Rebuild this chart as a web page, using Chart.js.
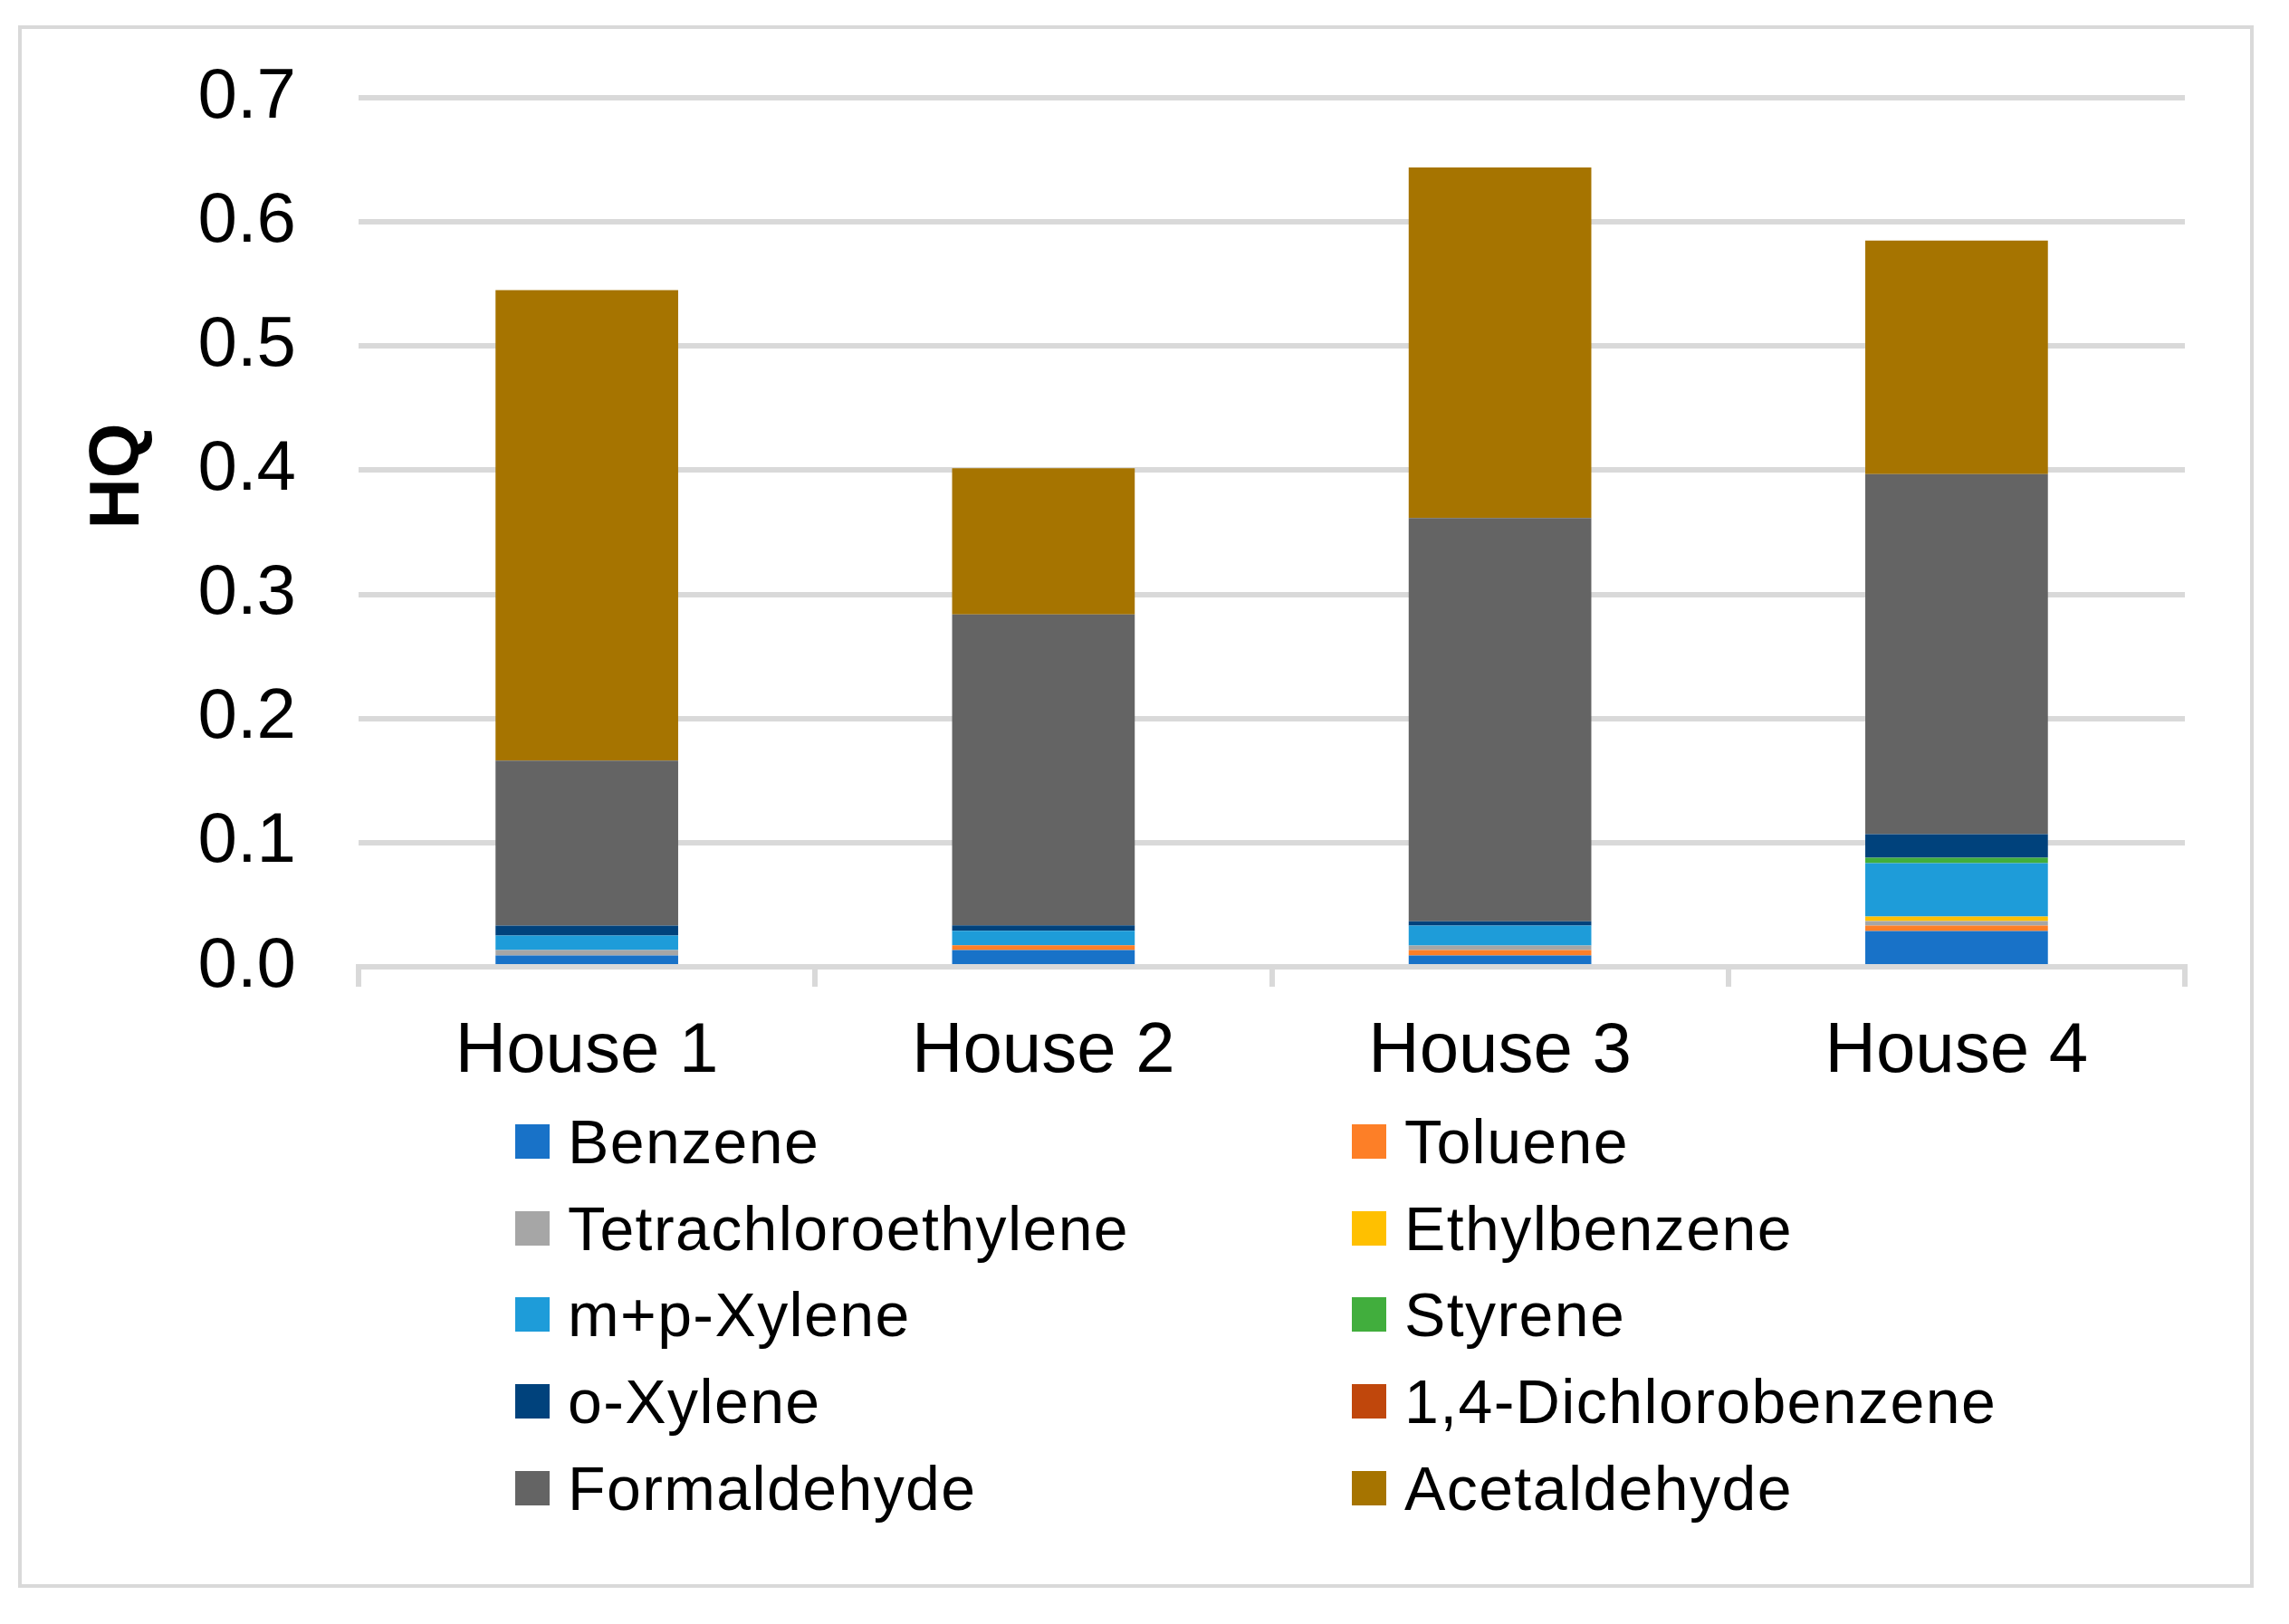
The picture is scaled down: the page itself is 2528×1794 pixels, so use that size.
<!DOCTYPE html>
<html>
<head>
<meta charset="utf-8">
<script src="https://cdn.jsdelivr.net/npm/chart.js@4.4.1/dist/chart.umd.min.js"></script>
<style>
  html, body { margin: 0; padding: 0; background: #ffffff; }
  #wrap { position: relative; width: 2528px; height: 1794px; overflow: hidden; background: #fff; }
  #frame { position: absolute; left: 20px; top: 28px; width: 2469px; height: 1726px; box-sizing: border-box; border: 4px solid #d9d9d9; pointer-events: none; }
  canvas { position: absolute; left: 0; top: 0; }
  .lg { position: absolute; display: flex; align-items: center; height: 38px; font-family: "Liberation Sans", Arial, sans-serif; font-size: 68px; letter-spacing: 1.4px; color: #000; white-space: nowrap; }
  .lg .sw { width: 38px; height: 38px; margin-right: 20px; flex: 0 0 38px; }
</style>
</head>
<body>
<div id="wrap">
  <canvas id="c" width="2528" height="1794"></canvas>
  <div id="frame"></div>
  <div id="legend"></div>
</div>
<script>
const categories = ['House 1', 'House 2', 'House 3', 'House 4'];
const yTicks = [0.0, 0.1, 0.2, 0.3, 0.4, 0.5, 0.6, 0.7];

const benzene             = [0.0091, 0.0135, 0.0091, 0.0288];
const toluene             = [0.0000, 0.0039, 0.0044, 0.0044];
const tetrachloroethylene = [0.0044, 0.0000, 0.0036, 0.0036];
const ethylbenzene        = [0.0000, 0.0000, 0.0000, 0.0036];
const mpXylene            = [0.0117, 0.0115, 0.0160, 0.0430];
const styrene             = [0.0000, 0.0000, 0.0000, 0.0044];
const oXylene             = [0.0080, 0.0044, 0.0036, 0.0190];
const dichlorobenzene     = [0.0000, 0.0000, 0.0000, 0.0000];
const formaldehyde        = [0.1328, 0.2505, 0.3248, 0.2900];
const acetaldehyde        = [0.3790, 0.1177, 0.2824, 0.1882];

const seriesNames = ['Benzene', 'Toluene', 'Tetrachloroethylene', 'Ethylbenzene', 'm+p-Xylene',
  'Styrene', 'o-Xylene', '1,4-Dichlorobenzene', 'Formaldehyde', 'Acetaldehyde'];
const seriesValues = [benzene, toluene, tetrachloroethylene, ethylbenzene, mpXylene,
  styrene, oXylene, dichlorobenzene, formaldehyde, acetaldehyde];
const seriesColors = ['#1872C8', '#FD7F27', '#A6A6A6', '#FFC000', '#1E9CD9',
  '#41AE3D', '#00427C', '#C0470C', '#646464', '#A67400'];

const FONT = '"Liberation Sans", Arial, sans-serif';

const yTitlePlugin = {
  id: 'yTitle',
  afterDraw(chart) {
    const ctx = chart.ctx;
    ctx.save();
    ctx.translate(131, 526);
    ctx.rotate(-Math.PI / 2);
    ctx.font = 'bold 78px ' + FONT;
    ctx.fillStyle = '#000';
    ctx.textAlign = 'center';
    ctx.textBaseline = 'middle';
    ctx.fillText('HQ', 0, 0);
    ctx.restore();
  }
};

const chart = new Chart(document.getElementById('c'), {
  type: 'bar',
  data: {
    labels: categories,
    datasets: seriesNames.map((n, i) => ({
      label: n,
      data: seriesValues[i],
      backgroundColor: seriesColors[i],
      borderWidth: 0,
      barPercentage: 0.4,
      categoryPercentage: 1.0
    }))
  },
  options: {
    responsive: false,
    devicePixelRatio: 1,
    animation: false,
    layout: { padding: { left: 0, right: 115, top: 108, bottom: 566 } },
    plugins: {
      legend: { display: false },
      tooltip: { enabled: false },
      title: { display: false }
    },
    scales: {
      x: {
        stacked: true,
        afterFit(s) { s.height = 160; s.paddingLeft = 0; s.paddingRight = 0; s.paddingTop = 0; s.paddingBottom = 0; },
        grid: { display: true, drawOnChartArea: false, drawTicks: true, tickLength: 22, color: '#d9d9d9', lineWidth: 6, offset: true },
        border: { display: true, color: '#d9d9d9', width: 6 },
        ticks: { color: '#000', font: { family: FONT, size: 78 }, padding: 26, maxRotation: 0 }
      },
      y: {
        stacked: true,
        min: 0,
        max: 0.7,
        afterFit(s) { s.width = 396; s.paddingTop = 0; s.paddingBottom = 0; s.paddingLeft = 0; s.paddingRight = 0; },
        afterBuildTicks(s) { s.ticks = yTicks.map(v => ({ value: v })); },
        grid: { color: '#d9d9d9', lineWidth: 6, drawTicks: false },
        border: { display: false },
        ticks: { color: '#000', font: { family: FONT, size: 78 }, padding: 69, callback: v => Number(v).toFixed(1) }
      }
    }
  },
  plugins: [yTitlePlugin]
});

// Legend built from the chart's datasets (row-major, two columns)
const legendEl = document.getElementById('legend');
const colX = [569, 1493];
const rowY = [1261, 1357, 1452, 1548, 1644];
chart.data.datasets.forEach((ds, i) => {
  const item = document.createElement('div');
  item.className = 'lg';
  item.style.left = colX[i % 2] + 'px';
  item.style.top = (rowY[Math.floor(i / 2)] - 19) + 'px';
  const sw = document.createElement('span');
  sw.className = 'sw';
  sw.style.background = ds.backgroundColor;
  const tx = document.createElement('span');
  tx.textContent = ds.label;
  item.appendChild(sw);
  item.appendChild(tx);
  legendEl.appendChild(item);
});
</script>
</body>
</html>
